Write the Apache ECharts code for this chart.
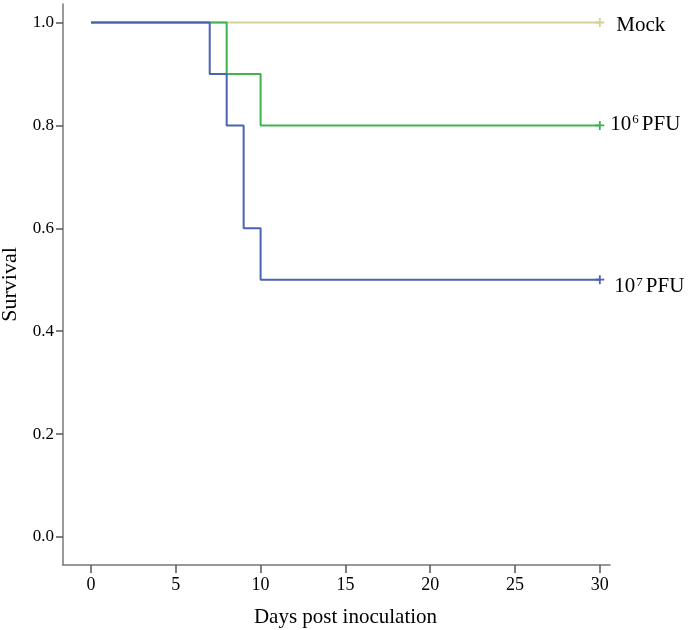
<!DOCTYPE html>
<html>
<head>
<meta charset="utf-8">
<script src="https://cdn.jsdelivr.net/npm/echarts@6/dist/echarts.min.js"></script>
<style>html,body{margin:0;padding:0;background:#fff}#c{width:689px;height:630px}</style>
</head>
<body>
<div id="c"></div>
<script>
const xTicks = [0, 5, 10, 15, 20, 25, 30];
const yTicks = [0.0, 0.2, 0.4, 0.6, 0.8, 1.0];
const mockDays = [0, 30];
const mockSurv = [1.0, 1.0];
const pfu6Days = [0, 8, 10, 30];
const pfu6Surv = [1.0, 0.9, 0.8, 0.8];
const pfu7Days = [0, 7, 8, 9, 10, 30];
const pfu7Surv = [1.0, 0.9, 0.8, 0.6, 0.5, 0.5];

const FONT = '"Liberation Serif", "DejaVu Serif", serif';
const plus = 'path://M4,0H6V4H10V6H6V10H4V6H0V4H4Z';

function build(days, surv, labelRich, dist, dy) {
  return days.map((d, i) => {
    const item = { value: [d, surv[i]] };
    if (i === days.length - 1) {
      item.symbol = plus;
      item.symbolSize = 9;
      item.label = {
        show: true, position: 'right', distance: dist, offset: [0, dy],
        formatter: labelRich, color: '#000', fontFamily: FONT, fontSize: 21,
        rich: { sup: { fontSize: 13, verticalAlign: 'top', padding: [0, 3, 9, 1], fontFamily: FONT, color: '#000' },
                n: { fontSize: 21, fontFamily: FONT, color: '#000' } }
      };
    } else {
      item.symbol = 'none';
    }
    return item;
  });
}

const series = [
  { name: 'Mock', color: '#d6d09c', days: mockDays, surv: mockSurv, label: '{n|Mock}', dist: 12, dy: 3 },
  { name: '10^6 PFU', color: '#3fb34f', days: pfu6Days, surv: pfu6Surv, label: '{n|10}{sup|6}{n|PFU}', dist: 6, dy: -1 },
  { name: '10^7 PFU', color: '#4a63b3', days: pfu7Days, surv: pfu7Surv, label: '{n|10}{sup|7}{n|PFU}', dist: 10, dy: 7 }
].map(s => ({
  type: 'line', name: s.name, step: 'end', showSymbol: true,
  data: build(s.days, s.surv, s.label, s.dist, s.dy),
  lineStyle: { color: s.color, width: 2 },
  itemStyle: { color: s.color },
  animation: false, silent: true
}));

const chart = echarts.init(document.getElementById('c'));
chart.setOption({
  animation: false,
  grid: { left: 63, top: 4, right: 79, bottom: 65, containLabel: false, outerBoundsMode: 'none' },
  xAxis: {
    type: 'value', min: -1.65, max: 30.6, interval: 5,
    name: 'Days post inoculation', nameLocation: 'middle', nameGap: 42, nameMoveOverlap: false,
    nameTextStyle: { fontFamily: FONT, fontSize: 21, color: '#000', padding: [0, 0, 0, 18] },
    axisLine: { show: true, onZero: false, lineStyle: { color: '#777', width: 1.5 } },
    axisTick: { show: true, length: 8, lineStyle: { color: '#555', width: 1.5 },
      customValues: xTicks },
    axisLabel: { fontFamily: FONT, fontSize: 18, color: '#000', margin: 11,
      customValues: xTicks },
    splitLine: { show: false }
  },
  yAxis: {
    type: 'value', min: -0.0546, max: 1.036,
    name: 'Survival', nameLocation: 'middle', nameGap: 42, nameMoveOverlap: false,
    nameTextStyle: { fontFamily: FONT, fontSize: 22, color: '#000' },
    axisLine: { show: true, onZero: false, lineStyle: { color: '#777', width: 1.5 } },
    axisTick: { show: true, length: 7, lineStyle: { color: '#555', width: 1.5 },
      customValues: yTicks },
    axisLabel: { fontFamily: FONT, fontSize: 17, color: '#000', margin: 9,
      customValues: yTicks, formatter: v => v.toFixed(1) },
    splitLine: { show: false }
  },
  series: series
});
</script>
</body>
</html>
